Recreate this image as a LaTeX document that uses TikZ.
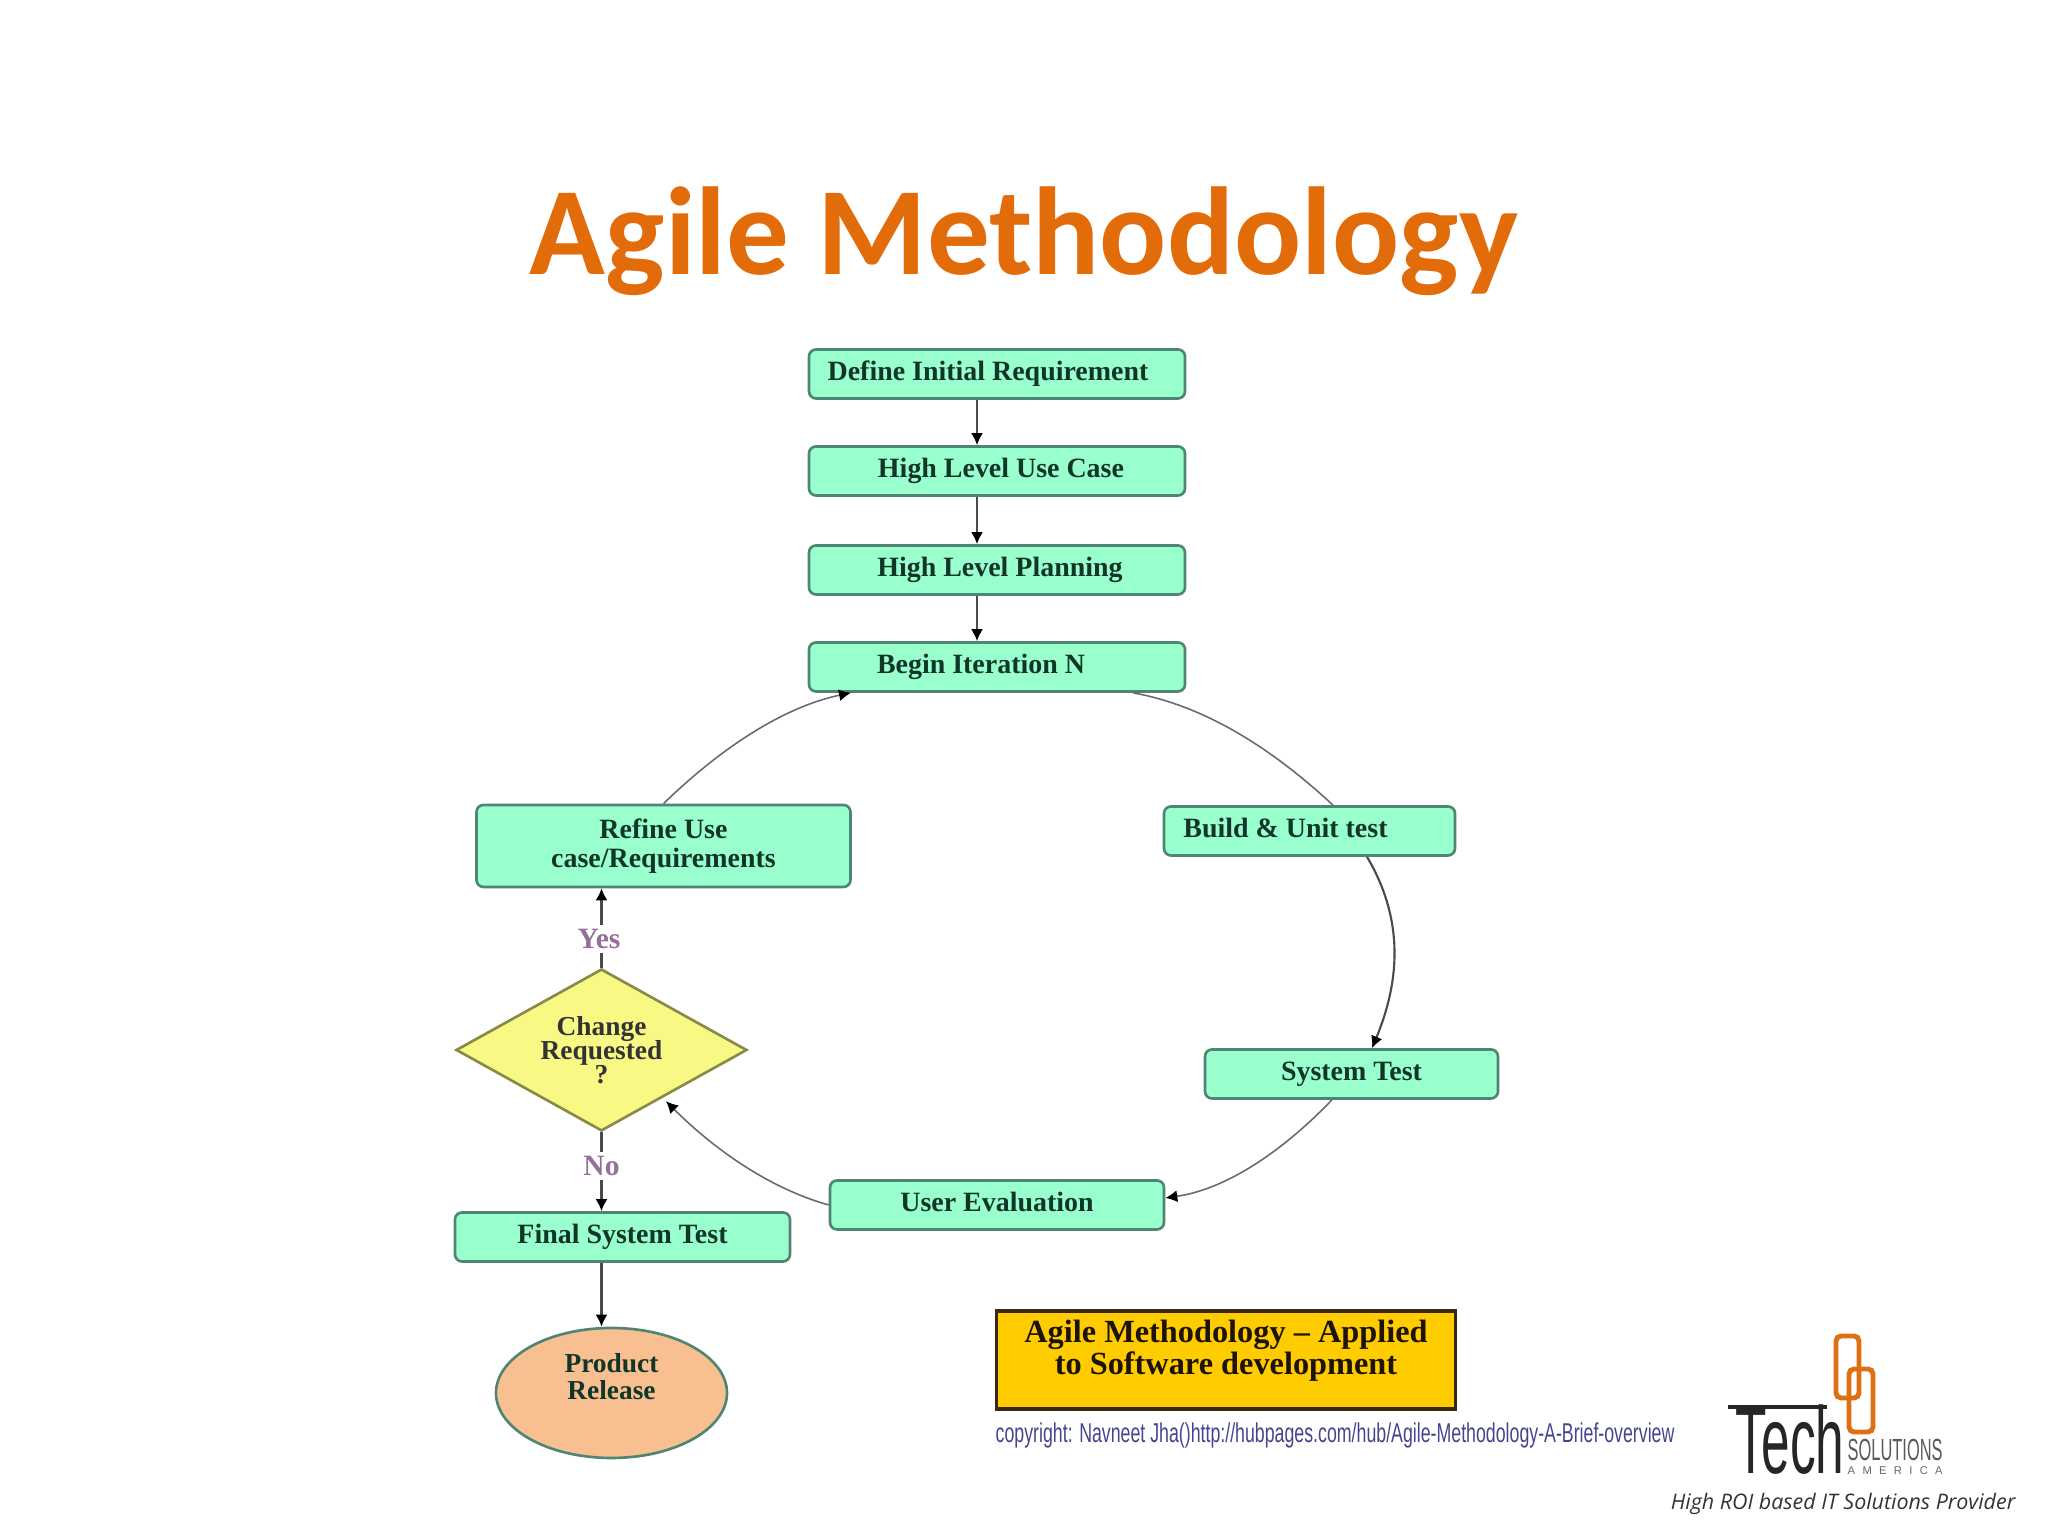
\documentclass[tikz,border=0pt]{standalone}
\usepackage{fontspec}
\usepackage{graphicx}
\setmainfont{Liberation Serif}
\newfontfamily\titlefont{Carlito}
\newfontfamily\capfont{Open Sans}
\newfontfamily\thinfont{Liberation Sans}
\usetikzlibrary{shapes.geometric,arrows.meta}
\lineskiplimit=-5pt
\definecolor{titleorange}{HTML}{E36C0A}
\definecolor{boxgreen}{HTML}{99FFCC}
\definecolor{boxedge}{HTML}{4F8573}
\definecolor{boxtext}{HTML}{12352A}
\definecolor{askyellow}{HTML}{F8F884}
\definecolor{askedge}{HTML}{8A8A48}
\definecolor{relorange}{HTML}{F8C090}
\definecolor{noteyellow}{HTML}{FFCC00}
\definecolor{linkgray}{HTML}{4A4A4A}
\definecolor{curvegray}{HTML}{6A6A6A}
\definecolor{wordpurple}{HTML}{95709A}
\definecolor{copyblue}{HTML}{45458F}
\tikzset{
	flowbox/.style={draw=boxedge,fill=boxgreen,rounded corners=0.07cm,line width=0.75pt,
		minimum height=0.49cm,inner sep=0pt,text=boxtext,font=\fontsize{7.95}{8.1}\selectfont\bfseries,align=center,
		text height=5.5pt,text depth=1.8pt},
	flowarrow/.style={-{Latex[black,length=0.12cm,width=0.12cm]},draw=linkgray,line width=0.6pt},
	flowline/.style={draw=linkgray,line width=0.6pt},
	curveline/.style={draw=curvegray,line width=0.45pt},
	curvearrow/.style={-{Latex[black,length=0.12cm,width=0.12cm]},draw=curvegray,line width=0.45pt},
	answer/.style={text=wordpurple,font=\fontsize{8.4}{9}\selectfont\bfseries,inner sep=1pt}
}
\begin{document}
\begin{tikzpicture}
	\useasboundingbox (0,0) rectangle (20.48,15.36);
	\node[text=titleorange,font=\titlefont\bfseries\fontsize{35.6}{40}\selectfont] (title) at (10.24,12.95) {Agile Methodology};
	% top column
	\node[flowbox,minimum width=3.76cm] (definereq) at (9.97,11.62) {Define Initial Requirement\hspace*{0.18cm}};
	\node[flowbox,minimum width=3.76cm] (usecase) at (9.97,10.65) {\hspace*{0.08cm}High Level Use Case};
	\node[flowbox,minimum width=3.76cm] (planning) at (9.97,9.66) {\hspace*{0.06cm}High Level Planning};
	\node[flowbox,minimum width=3.76cm] (iteration) at (9.97,8.69) {Begin Iteration N\hspace*{0.32cm}};
	% loop
	\node[flowbox,minimum width=2.91cm] (build) at (13.095,7.05) {Build \& Unit test\hspace*{0.48cm}};
	\node[flowbox,minimum width=2.93cm] (systest) at (13.515,4.62) {System Test};
	\node[flowbox,minimum width=3.34cm] (userev) at (9.97,3.31) {User Evaluation};
	\node[flowbox,minimum width=3.74cm,minimum height=0.82cm,text height=,text depth=] (refine) at (6.635,6.90) {Refine Use\\case/Requirements\\[-0.225cm]\mbox{}};
	\node[diamond,shape aspect=1.8,draw=askedge,fill=askyellow,line width=0.75pt,minimum width=2.91cm,minimum height=1.62cm,inner sep=0pt,
		text=black!80,font=\fontsize{7.8}{6.9}\selectfont\bfseries,align=center] (change) at (6.015,4.86) {Change\\Requested\\?};
	% end of the flow
	\node[flowbox,minimum width=3.35cm] (finaltest) at (6.225,2.99) {Final System Test};
	\node[ellipse,draw=boxedge,fill=relorange,line width=0.75pt,minimum width=2.31cm,minimum height=1.30cm,inner sep=0pt,
		text=boxtext,font=\fontsize{7.8}{7.8}\selectfont\bfseries,align=center] (release) at (6.115,1.43) {Product\\Release\\[0.06cm]\mbox{}};
	\draw[flowarrow] ([xshift=-0.2cm]definereq.south) -- ([xshift=-0.2cm]usecase.north);
	\draw[flowarrow] ([xshift=-0.2cm]usecase.south) -- ([xshift=-0.2cm]planning.north);
	\draw[flowarrow] ([xshift=-0.2cm]planning.south) -- ([xshift=-0.2cm]iteration.north);
	\draw[curveline] ([xshift=1.36cm]iteration.south) .. controls (12.0,8.31) and (12.66,7.93) .. ([xshift=0.235cm]build.north);
	\draw[flowarrow] ([xshift=0.575cm]build.south) .. controls (14.02,6.2) and (14.02,5.6) .. ([xshift=0.205cm]systest.north);
	\draw[curvearrow] ([xshift=-0.195cm]systest.south) .. controls (12.76,3.78) and (12.21,3.46) .. ([yshift=0.07cm]userev.east);
	\draw[curvearrow] (userev.west) .. controls (7.75,3.46) and (7.2,3.81) .. ([xshift=-0.09cm,yshift=-0.1cm]change.south east);
	\draw[curvearrow] (refine.north) .. controls (7.26,7.93) and (7.88,8.30) .. ([xshift=-1.46cm]iteration.south);
	\node[answer] (yes) at (5.99,5.97) {Yes};
	\node[answer] (no) at (6.015,3.70) {No};
	\draw[flowline] (change.north) -- (yes.south -| change.north);
	\draw[flowarrow] (yes.north -| change.north) -- (change.north |- refine.south);
	\draw[flowline] (change.south) -- (no.north -| change.south);
	\draw[flowarrow] (no.south -| change.south) -- (change.south |- finaltest.north);
	\draw[flowarrow] (change.south |- finaltest.south) -- (change.south |- release.north);
	% note and credit
	\node[draw=black!70!brown,fill=noteyellow,line width=0.9pt,minimum width=4.59cm,minimum height=0.98cm,inner sep=0pt,
		text=black!85!brown,font=\fontsize{9.2}{9.3}\selectfont\bfseries,align=center] (note) at (12.26,1.76)
		{Agile Methodology -- Applied\\to Software development\\[-0.07cm]\mbox{}};
	\node[text=copyblue,anchor=west,inner sep=0pt,font=\thinfont\fontsize{6.2}{7}\selectfont] (credit) at (9.95,1.01)
		{\scalebox{0.815}[1.25]{copyright: Navneet Jha()http://hubpages.com/hub/Agile-Methodology-A-Brief-overview}};
	% logo
	\draw[titleorange!85!brown,line width=1.4pt,rounded corners=0.05cm] (18.36,2.00) rectangle (18.59,1.38);
	\draw[titleorange!85!brown,line width=1.4pt,rounded corners=0.05cm] (18.49,1.67) rectangle (18.73,1.04);
	\draw[black!85,line width=1.2pt] (17.28,1.29) -- (18.27,1.29);
	\node[anchor=south west,inner sep=0pt,text=black!85,font=\thinfont\fontsize{17}{17}\selectfont] (tech) at (17.35,0.61) {\scalebox{0.86}[1.59]{Tech}};
	\node[anchor=south west,inner sep=0pt,text=black!65,font=\thinfont\fontsize{5.4}{6}\selectfont] (solutions) at (18.47,0.74) {\scalebox{0.865}[1.61]{SOLUTIONS}};
	\node[anchor=south west,inner sep=0pt,text=black!60,font=\thinfont\fontsize{3.2}{3.4}\selectfont] (america) at (18.47,0.61) {\makebox[0.95cm][s]{A\hfill M\hfill E\hfill R\hfill I\hfill C\hfill A}};
	\node[anchor=south east,inner sep=0pt,text=black!80,font=\capfont\itshape\fontsize{6.1}{7}\selectfont] (slogan) at (20.16,0.21) {High ROI based IT Solutions Provider};
\end{tikzpicture}
\end{document}
